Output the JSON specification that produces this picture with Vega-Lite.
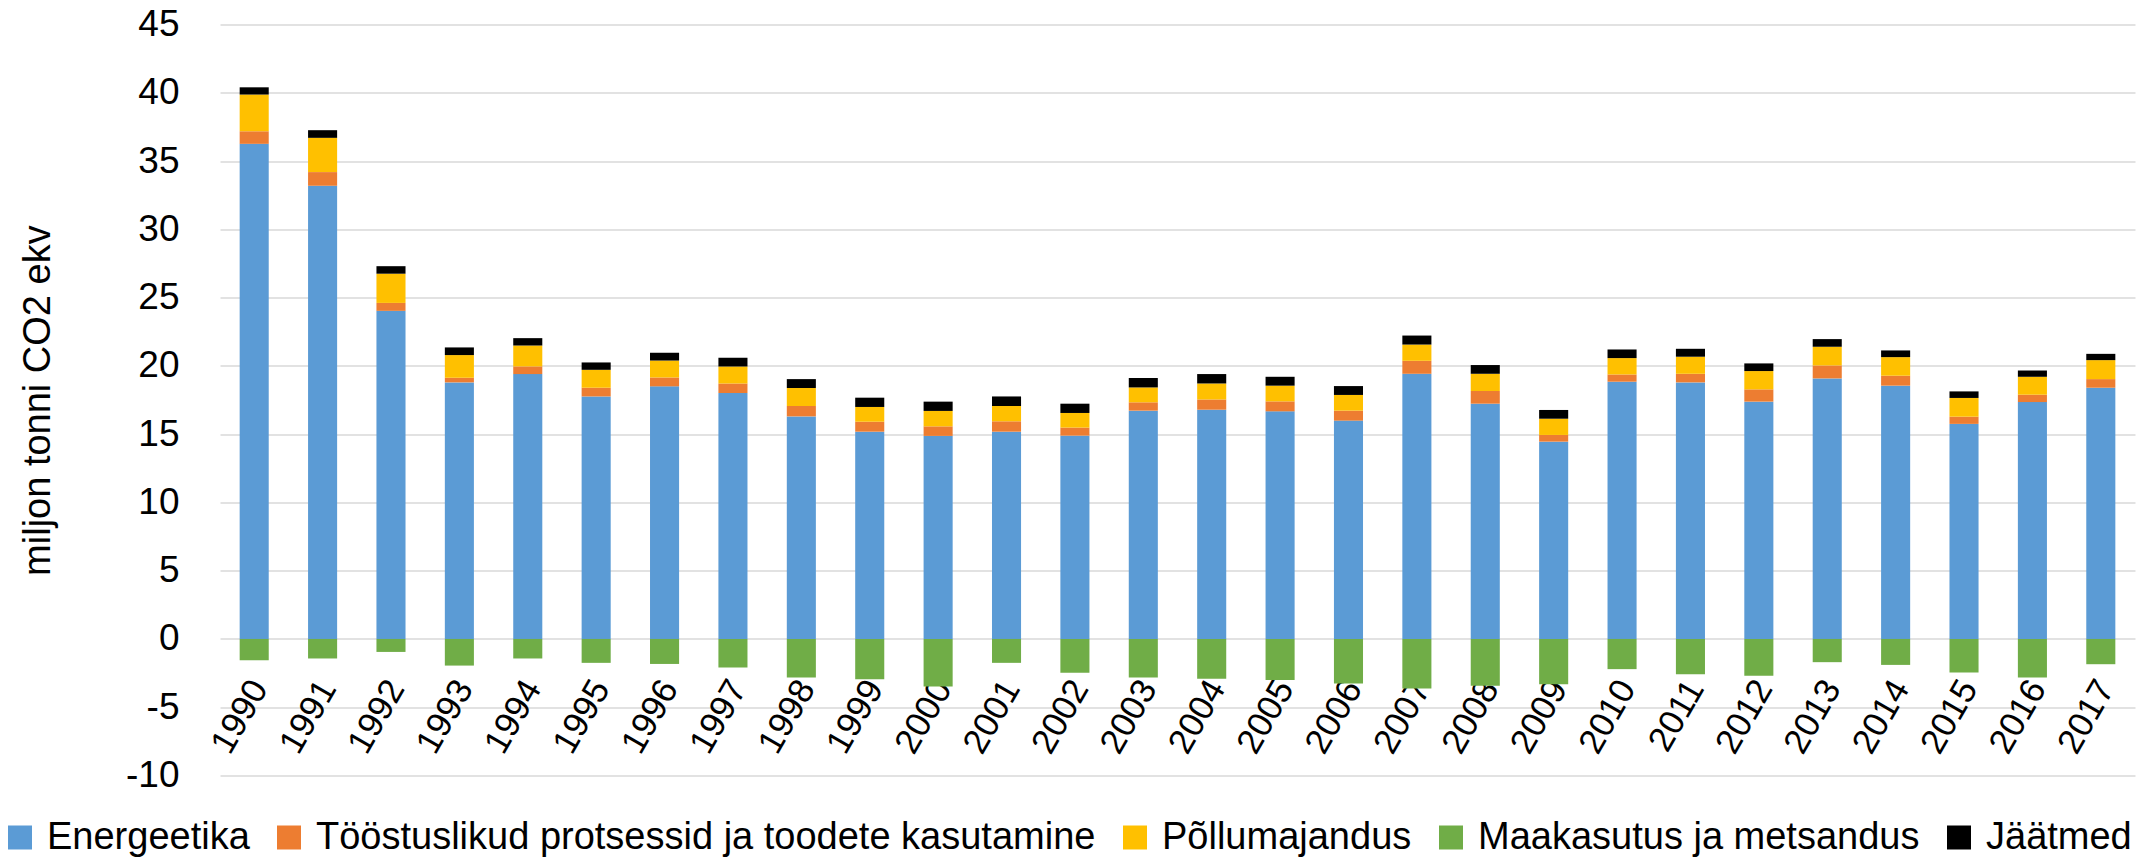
{
  "$schema": "https://vega.github.io/schema/vega-lite/v6.json",
  "width": 1915,
  "height": 751,
  "autosize": {"type": "none"},
  "padding": {"left": 220, "top": 24.5, "right": 18, "bottom": 86.5},
  "background": "white",
  "config": {
    "view": {"stroke": null},
    "font": "Liberation Sans",
    "axis": {"labelFont": "Liberation Sans", "titleFont": "Liberation Sans", "labelColor": "#000000", "titleColor": "#000000"}
  },
  "datasets": {
    "rows": [
      {"year":"1990","E":36.26,"I":0.92,"P":2.69,"M":-1.56,"J":0.53},
      {"year":"1991","E":33.19,"I":1.00,"P":2.51,"M":-1.43,"J":0.56},
      {"year":"1992","E":24.03,"I":0.58,"P":2.14,"M":-0.95,"J":0.55},
      {"year":"1993","E":18.79,"I":0.34,"P":1.66,"M":-1.95,"J":0.56},
      {"year":"1994","E":19.40,"I":0.56,"P":1.53,"M":-1.43,"J":0.54},
      {"year":"1995","E":17.76,"I":0.64,"P":1.31,"M":-1.75,"J":0.54},
      {"year":"1996","E":18.50,"I":0.65,"P":1.24,"M":-1.83,"J":0.57},
      {"year":"1997","E":18.01,"I":0.70,"P":1.25,"M":-2.09,"J":0.63},
      {"year":"1998","E":16.30,"I":0.76,"P":1.32,"M":-2.82,"J":0.65},
      {"year":"1999","E":15.18,"I":0.73,"P":1.08,"M":-2.95,"J":0.68},
      {"year":"2000","E":14.87,"I":0.70,"P":1.13,"M":-3.48,"J":0.68},
      {"year":"2001","E":15.18,"I":0.76,"P":1.12,"M":-1.75,"J":0.70},
      {"year":"2002","E":14.89,"I":0.59,"P":1.07,"M":-2.48,"J":0.68},
      {"year":"2003","E":16.72,"I":0.61,"P":1.09,"M":-2.82,"J":0.69},
      {"year":"2004","E":16.79,"I":0.75,"P":1.17,"M":-2.92,"J":0.69},
      {"year":"2005","E":16.67,"I":0.73,"P":1.15,"M":-3.00,"J":0.65},
      {"year":"2006","E":15.99,"I":0.73,"P":1.15,"M":-3.26,"J":0.65},
      {"year":"2007","E":19.42,"I":0.95,"P":1.19,"M":-3.63,"J":0.66},
      {"year":"2008","E":17.23,"I":0.93,"P":1.26,"M":-3.43,"J":0.64},
      {"year":"2009","E":14.45,"I":0.49,"P":1.19,"M":-3.31,"J":0.64},
      {"year":"2010","E":18.84,"I":0.53,"P":1.20,"M":-2.21,"J":0.63},
      {"year":"2011","E":18.79,"I":0.63,"P":1.25,"M":-2.58,"J":0.58},
      {"year":"2012","E":17.38,"I":0.90,"P":1.34,"M":-2.70,"J":0.56},
      {"year":"2013","E":19.08,"I":0.95,"P":1.37,"M":-1.70,"J":0.56},
      {"year":"2014","E":18.55,"I":0.73,"P":1.36,"M":-1.90,"J":0.49},
      {"year":"2015","E":15.75,"I":0.53,"P":1.37,"M":-2.46,"J":0.48},
      {"year":"2016","E":17.35,"I":0.54,"P":1.31,"M":-2.82,"J":0.46},
      {"year":"2017","E":18.40,"I":0.63,"P":1.39,"M":-1.85,"J":0.46}
    ]
  },
  "data": {"name": "rows"},
  "transform": [
    {"fold": ["E", "I", "P", "M", "J"], "as": ["key", "value"]},
    {"lookup": "key", "from": {"data": {"values": [
      {"key": "E", "cat": "Energeetika", "ord": 1},
      {"key": "I", "cat": "Tööstuslikud protsessid ja toodete kasutamine", "ord": 2},
      {"key": "P", "cat": "Põllumajandus", "ord": 3},
      {"key": "M", "cat": "Maakasutus ja metsandus", "ord": 4},
      {"key": "J", "cat": "Jäätmed", "ord": 5}
    ]}, "key": "key", "fields": ["cat", "ord"]}}
  ],
  "mark": {"type": "bar"},
  "encoding": {
    "x": {
      "field": "year", "type": "ordinal",
      "scale": {"paddingInner": 0.575, "paddingOuter": 0.2875},
      "axis": {
        "title": null, "offset": -137, "domain": false, "ticks": false, "grid": false,
        "labelAngle": -60, "labelAlign": "right", "labelBaseline": "middle",
        "labelFontSize": 35, "labelPadding": 44, "labelOffset": 5,
        "labelOverlap": false, "labelBound": false
      }
    },
    "y": {
      "field": "value", "type": "quantitative", "stack": "zero",
      "scale": {"domain": [-10, 45], "nice": false, "zero": false},
      "axis": {
        "title": "miljon tonni CO2 ekv", "values": [-10, -5, 0, 5, 10, 15, 20, 25, 30, 35, 40, 45],
        "labelExpr": "datum.value < 0 ? '-' + abs(datum.value) : datum.label",
        "domain": false, "ticks": false, "labelFontSize": 37, "labelPadding": 41,
        "gridColor": "#d9d9d9", "gridWidth": 1.5,
        "titleFontSize": 38, "titleFontWeight": "normal", "titleAngle": -90,
        "titleX": -163, "titleY": 375.6, "titleAlign": "center", "titleBaseline": "bottom"
      }
    },
    "color": {
      "field": "cat", "type": "nominal",
      "scale": {
        "domain": ["Energeetika", "Tööstuslikud protsessid ja toodete kasutamine", "Põllumajandus", "Maakasutus ja metsandus", "Jäätmed"],
        "range": ["#5b9bd5", "#ed7d31", "#ffc000", "#70ad47", "#000000"]
      },
      "legend": {
        "title": null, "orient": "none", "direction": "horizontal", "legendX": -219, "legendY": 794,
        "symbolType": "square", "symbolSize": 576, "symbolStrokeWidth": 0, "symbolOpacity": 1,
        "labelFontSize": 38, "labelColor": "#000000", "labelOffset": 8, "columnPadding": 20,
        "padding": 0, "labelLimit": 1000
      }
    },
    "order": {"field": "ord", "type": "quantitative"}
  }
}
